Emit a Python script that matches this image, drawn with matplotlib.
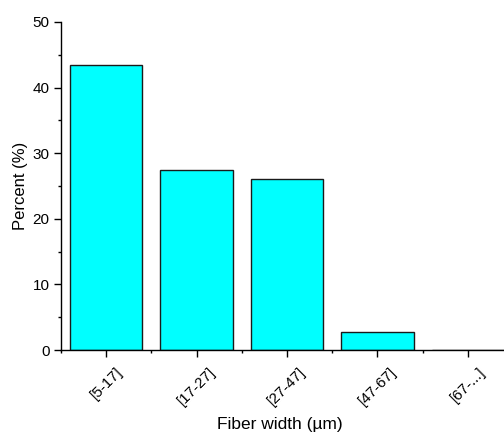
import matplotlib.pyplot as plt
import matplotlib.transforms as mtransforms
from matplotlib.ticker import MultipleLocator, FixedLocator

categories = ['[5-17]', '[17-27]', '[27-47]', '[47-67]', '[67-...]']
percent = [43.4, 27.4, 26.1, 2.8, 0.0]

plt.rcParams['font.family'] = ['Liberation Sans', 'DejaVu Sans']

fig = plt.figure(figsize=(5.04, 4.36), dpi=100)
ax = fig.add_axes([61 / 504, 86 / 436, 443 / 504, 328 / 436])

x = list(range(len(categories)))
ax.bar(x, percent, width=0.8, color='#00FFFF', edgecolor='#1a1a1a', linewidth=1.0)

ax.set_xlim(-0.5, 4.4)
ax.set_ylim(0, 50)
ax.set_xticks(x)
ax.set_xticklabels(categories, rotation=45, ha='center')
ax.xaxis.set_minor_locator(FixedLocator([-0.5, 0.5, 1.5, 2.5, 3.5]))
ax.yaxis.set_major_locator(MultipleLocator(10))
ax.yaxis.set_minor_locator(MultipleLocator(5))

# nudge rotated labels slightly left like the original
shift = mtransforms.ScaledTranslation(-5 / 100, 0, fig.dpi_scale_trans)
for lab in ax.get_xticklabels():
    lab.set_transform(lab.get_transform() + shift)

for s in ['top', 'right']:
    ax.spines[s].set_visible(False)
for s in ['left', 'bottom']:
    ax.spines[s].set_linewidth(1.0)

ax.tick_params(which='major', direction='out', length=4.7, width=1, labelsize=11)
ax.tick_params(which='minor', direction='out', length=2.5, width=1)
ax.tick_params(axis='x', which='major', pad=6)

ax.set_xlabel('Fiber width (µm)', fontsize=12.5)
ax.xaxis.set_label_coords(0.494, -0.205)
ax.set_ylabel('Percent (%)', fontsize=12, labelpad=3)

fig.savefig('out.png', dpi=100)
